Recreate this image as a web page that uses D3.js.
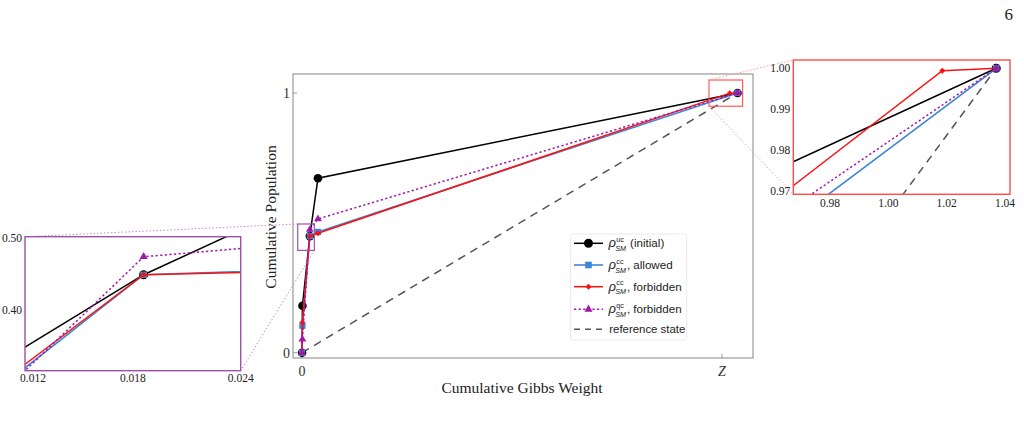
<!DOCTYPE html>
<html><head><meta charset="utf-8">
<script src="https://cdn.jsdelivr.net/npm/d3@7"></script>
<style>body{margin:0;background:#fff}svg{display:block}text{white-space:pre}</style>
</head><body><svg id="c" width="1024" height="427"></svg>
<script>
// ---- data (cumulative Gibbs weight in units of Z, cumulative population) ----
const ucX = [0, 0.001, 0.0186, 0.038, 1.037];
const ucY = [0, 0.181, 0.449, 0.672, 1.0];
const ccAllowedX = [0, 0.001, 0.0186, 0.038, 1.037];
const ccAllowedY = [0, 0.104, 0.449, 0.465, 1.0];
const ccForbiddenX = [0, 0.001, 0.0186, 0.038, 1.0185, 1.037];
const ccForbiddenY = [0, 0.117, 0.449, 0.460, 0.9994, 1.0];
const qcForbiddenX = [0, 0.001, 0.0186, 0.038, 1.037];
const qcForbiddenY = [0, 0.052, 0.474, 0.515, 1.0];
const refX = [0, 1.037];
const refY = [0, 1.0];

const mainXTicks = [0, 1];
const mainXTickLabels = ["0", "Z"];
const mainYTicks = [0, 1];
const mainYTickLabels = ["0", "1"];
const leftInsetXTicks = [0.012, 0.018, 0.024];
const leftInsetYTicks = [0.40, 0.50];
const rightInsetXTicks = [0.98, 1.00, 1.02, 1.04];
const rightInsetYTicks = [0.97, 0.98, 0.99, 1.00];

const legendLabels = [
  {sup: "uc", rest: " (initial)"},
  {sup: "cc", rest: ", allowed"},
  {sup: "cc", rest: ", forbidden"},
  {sup: "qc", rest: ", forbidden"},
  {sup: null, rest: "reference state"}
];

// ---- styles ----
const series = [
  {x: refX, y: refY, color: "#555", width: 1.5, dash: "8,6", marker: null},
  {x: ucX, y: ucY, color: "#000", width: 1.5, dash: null, marker: "circle"},
  {x: ccAllowedX, y: ccAllowedY, color: "#3a86d9", width: 1.6, dash: null, marker: "square"},
  {x: ccForbiddenX, y: ccForbiddenY, color: "#ff1010", width: 1.5, dash: null, marker: "diamond"},
  {x: qcForbiddenX, y: qcForbiddenY, color: "#a018a8", width: 1.5, dash: "2.2,2.4", marker: "triangle"}
];
const legendOrder = [1, 2, 3, 4, 0];

const svg = d3.select("#c");
const serif = "'Liberation Serif', 'DejaVu Serif', serif";
const sans = "'Liberation Sans', Arial, sans-serif";

function markerPath(type, k) {
  if (type === "circle") return d3.symbol(d3.symbolCircle, 58 * k * k)();
  if (type === "square") return d3.symbol(d3.symbolSquare, 40 * k * k)();
  if (type === "diamond") return d3.symbol(d3.symbolSquare, 17 * k * k)();
  if (type === "triangle") return d3.symbol(d3.symbolTriangle, 26 * k * k)();
  return null;
}

function drawSeries(g, xs, ys, k, clipId) {
  const gg = g.append("g");
  if (clipId) gg.attr("clip-path", `url(#${clipId})`);
  series.forEach(s => {
    const pts = s.x.map((v, i) => [xs(v), ys(s.y[i])]);
    gg.append("path").attr("d", d3.line()(pts)).attr("fill", "none")
      .attr("stroke", s.color).attr("stroke-width", s.width)
      .attr("stroke-dasharray", s.dash);
    if (s.marker) {
      pts.forEach(p => {
        gg.append("path").attr("d", markerPath(s.marker, k))
          .attr("transform", `translate(${p[0]},${p[1]})` + (s.marker === "diamond" ? " rotate(45)" : ""))
          .attr("fill", s.color);
      });
    }
  });
}

// ---- main plot ----
const mx = d3.scaleLinear().domain([0, 1]).range([302, 722]);
const my = d3.scaleLinear().domain([0, 1]).range([352.7, 93]);
const frame = {x0: 293, y0: 74, x1: 753, y1: 358};

svg.append("rect").attr("x", frame.x0).attr("y", frame.y0)
  .attr("width", frame.x1 - frame.x0).attr("height", frame.y1 - frame.y0)
  .attr("fill", "none").attr("stroke", "#999").attr("stroke-width", 1.2);

mainXTicks.forEach((v, i) => {
  svg.append("line").attr("x1", mx(v)).attr("x2", mx(v)).attr("y1", frame.y1).attr("y2", frame.y1 - 4)
    .attr("stroke", "#999");
  svg.append("text").attr("x", mx(v)).attr("y", 376).attr("text-anchor", "middle")
    .attr("font-family", serif).attr("font-size", 14).attr("fill", "#333")
    .attr("font-style", mainXTickLabels[i] === "Z" ? "italic" : null)
    .text(mainXTickLabels[i]);
});
mainYTicks.forEach((v, i) => {
  svg.append("line").attr("x1", frame.x0).attr("x2", frame.x0 + 4).attr("y1", my(v)).attr("y2", my(v))
    .attr("stroke", "#999");
  svg.append("text").attr("x", 290).attr("y", my(v) + 5).attr("text-anchor", "end")
    .attr("font-family", serif).attr("font-size", 14).attr("fill", "#333")
    .text(mainYTickLabels[i]);
});

svg.append("text").attr("x", 522).attr("y", 393).attr("text-anchor", "middle")
  .attr("font-family", serif).attr("font-size", 15.5).attr("fill", "#222").text("Cumulative Gibbs Weight");
svg.append("text").attr("transform", "translate(276,217) rotate(-90)").attr("text-anchor", "middle")
  .attr("font-family", serif).attr("font-size", 15.5).attr("fill", "#222").text("Cumulative Population");

drawSeries(svg, mx, my, 1, null);

// zoom boxes (data units)
const leftBox = {x0: -0.0102, x1: 0.0293, y0: 0.394, y1: 0.4956};
const rightBox = {x0: 0.969, x1: 1.049, y0: 0.949, y1: 1.05};

// ---- legend ----
const lg = svg.append("g");
lg.append("rect").attr("x", 570.7).attr("y", 234).attr("width", 116).attr("height", 106)
  .attr("fill", "#fff").attr("fill-opacity", 0.9).attr("stroke", "#e4e4e4").attr("stroke-width", 0.8).attr("rx", 2);
const rowY = [243.3, 265, 286.7, 309.3, 329.3];
legendOrder.forEach((si, r) => {
  const s = series[si];
  const y = rowY[r];
  lg.append("line").attr("x1", 574).attr("x2", 603).attr("y1", y).attr("y2", y)
    .attr("stroke", s.color).attr("stroke-width", s.width)
    .attr("stroke-dasharray", s.marker === null ? "6,5" : s.dash);
  if (s.marker) {
    lg.append("path").attr("d", markerPath(s.marker, 1.05))
      .attr("transform", `translate(588.5,${y})` + (s.marker === "diamond" ? " rotate(45)" : ""))
      .attr("fill", s.color);
  }
  const lab = legendLabels[r];
  if (lab.sup) {
    lg.append("text").attr("x", 608.5).attr("y", y + 4).attr("font-family", sans).attr("font-style", "italic")
      .attr("font-size", 13).attr("fill", "#222").text("ρ");
    const supT = lg.append("text").attr("x", 616.3).attr("y", y - 1.5).attr("font-family", sans)
      .attr("font-size", 7.2).attr("fill", "#222").text(lab.sup);
    const subT = lg.append("text").attr("x", 615.3).attr("y", y + 7.5).attr("font-family", sans).attr("font-style", "italic")
      .attr("font-size", 7.2).attr("fill", "#222").text("SM");
    const endX = Math.max(616.3 + supT.node().getComputedTextLength(), 615.3 + subT.node().getComputedTextLength());
    lg.append("text").attr("x", endX + 0.8).attr("y", y + 4).attr("font-family", sans)
      .attr("font-size", 11.6).attr("fill", "#222").text(lab.rest);
  } else {
    lg.append("text").attr("x", 609.3).attr("y", y + 4).attr("font-family", sans)
      .attr("font-size", 11.4).attr("fill", "#222").text(lab.rest);
  }
});

// ---- insets ----
const defs = svg.append("defs");
function inset(cfg) {
  const xs = d3.scaleLinear().domain(cfg.xd).range(cfg.xr);
  const ys = d3.scaleLinear().domain(cfg.yd).range(cfg.yr);
  const f = cfg.frame;
  defs.append("clipPath").attr("id", cfg.id).append("rect")
    .attr("x", f.x).attr("y", f.y).attr("width", f.w).attr("height", f.h);
  const g = svg.append("g");
  g.append("rect").attr("x", f.x).attr("y", f.y).attr("width", f.w).attr("height", f.h).attr("fill", "#fff");
  drawSeries(g, xs, ys, 1.05, cfg.id);
  g.append("rect").attr("x", f.x).attr("y", f.y).attr("width", f.w).attr("height", f.h)
    .attr("fill", "none").attr("stroke", cfg.color).attr("stroke-width", 1.4);
  cfg.xt.forEach((v, i) => {
    let x = xs(v), anchor = "middle";
    if (x - 14 < f.x - 8) { x = f.x - 5; anchor = "start"; }
    g.append("text").attr("x", x).attr("y", cfg.xLabelY).attr("text-anchor", anchor)
      .attr("font-family", serif).attr("font-size", 11.5).attr("fill", "#222").text(cfg.xfmt(v));
  });
  cfg.yt.forEach(v => {
    g.append("text").attr("x", f.x - 3).attr("y", ys(v) + 4).attr("text-anchor", "end")
      .attr("font-family", serif).attr("font-size", 11.5).attr("fill", "#222").text(cfg.yfmt(v));
  });
}

function zoomBox(b, color) {
  svg.append("rect").attr("x", mx(b.x0)).attr("y", my(b.y1))
    .attr("width", mx(b.x1) - mx(b.x0)).attr("height", my(b.y0) - my(b.y1))
    .attr("fill", "none").attr("stroke", color).attr("stroke-width", 1.2);
}
zoomBox(leftBox, "#a050a8");
zoomBox(rightBox, "#ff5a5a");

const lf = {x: 25, y: 236.7, w: 215.7, h: 134};
const rf = {x: 793.3, y: 60, w: 216.7, h: 134.3};

function conn(x1, y1, x2, y2, color) {
  svg.append("line").attr("x1", x1).attr("y1", y1).attr("x2", x2).attr("y2", y2)
    .attr("stroke", color).attr("stroke-width", 1).attr("stroke-dasharray", "1.5,2");
}
conn(mx(leftBox.x0), my(leftBox.y1), lf.x, lf.y, "#cc88cc");
conn(mx(leftBox.x1), my(leftBox.y0), lf.x + lf.w, lf.y + lf.h, "#cc88cc");
conn(mx(rightBox.x0), my(rightBox.y1), rf.x, rf.y, "#ff9a9a");
conn(mx(rightBox.x0), my(rightBox.y0), rf.x, rf.y + rf.h, "#ff9a9a");

inset({id: "clipL", xd: [0.012, 0.024], xr: [25, 240.7], yd: [0.40, 0.50], yr: [310, 238],
  frame: lf, color: "#a050a8", xt: leftInsetXTicks, yt: leftInsetYTicks, xLabelY: 382,
  xfmt: d3.format(".3f"), yfmt: d3.format(".2f")});
inset({id: "clipR", xd: [0.98, 1.04], xr: [830, 1005], yd: [0.97, 1.00], yr: [191, 68.3],
  frame: rf, color: "#ff4a4a", xt: rightInsetXTicks, yt: rightInsetYTicks, xLabelY: 207,
  xfmt: d3.format(".2f"), yfmt: d3.format(".2f")});

svg.append("text").attr("x", 1013).attr("y", 20).attr("text-anchor", "end")
  .attr("font-family", serif).attr("font-size", 17).attr("fill", "#222").text("6");
</script></body></html>
